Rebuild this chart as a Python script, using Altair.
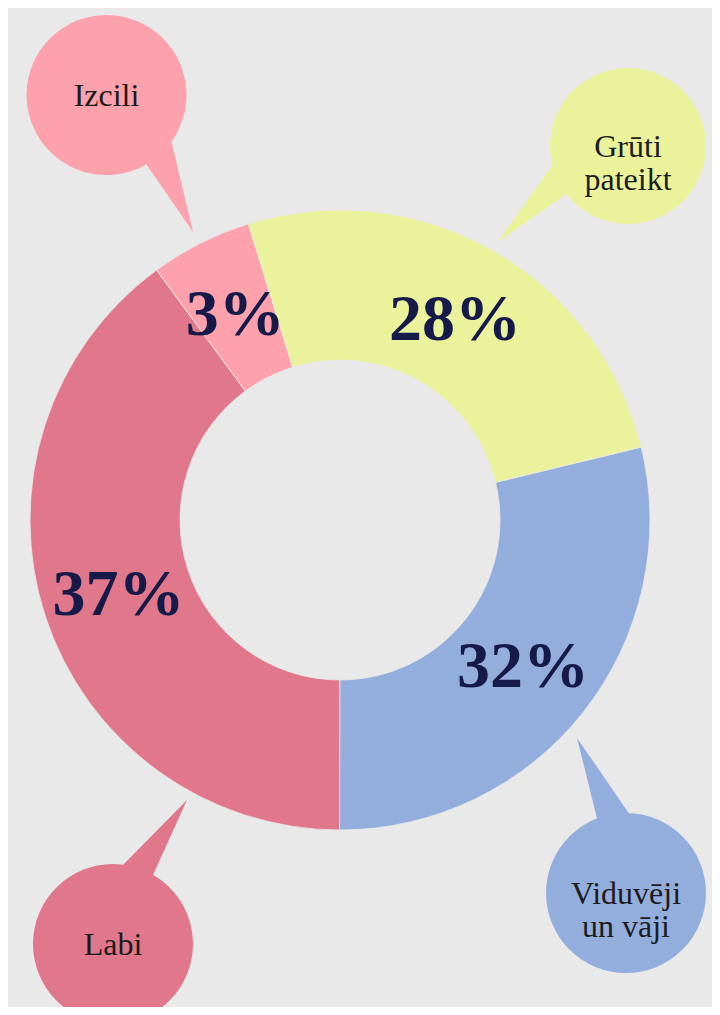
import math
import altair as alt
import pandas as pd

# ---- data ----
categories = ["Viduvēji un vāji", "Labi", "Izcili", "Grūti pateikt"]
shares = [28.8, 39.9, 5.3, 26.0]          # drawn slice sizes (share of the ring)
pct_labels = ["32%", "37%", "3%", "28%"]  # printed labels
bubble_lines = [["Viduvēji", "un vāji"], ["Labi"], ["Izcili"], ["Grūti", "pateikt"]]

# ---- styles / layout (page pixels) ----
colors = ["#93aedd", "#e0778b", "#fda1ad", "#eaf39b"]
BG = "#e9e9e9"
OFF = 8
W, H = 704, 999
CX, CY = 340 - OFF, 520 - OFF
R_OUT, R_IN = 310, 160
START = math.radians(76.4)
bubble_xy = [(626, 893), (113, 944), (106.5, 95), (628, 146)]
bubble_r = [80, 80, 80, 78]
tip_xy = [(577, 738), (187, 800), (193, 232), (498, 242)]
tip_deg = [(145.4, 166.0), (204.4, 224.6), (325.5, 346.6), (35.2, 54.8)]

df = pd.DataFrame({"cat": categories, "share": shares, "pct": pct_labels,
                   "ord": list(range(len(categories)))})
one = pd.DataFrame({"k": [0]})

theta_scale = alt.Scale(range=[START, START + 2 * math.pi])
color_scale = alt.Scale(domain=categories, range=colors)

layers = []
# pointers
for (tx, ty), (a0, a1), col in zip(tip_xy, tip_deg, colors):
    layers.append(
        alt.Chart(one).mark_arc(innerRadius=0, outerRadius=150,
                                theta=math.radians(a0), theta2=math.radians(a1),
                                color=col)
        .encode(x=alt.value(tx - OFF), y=alt.value(ty - OFF))
    )
# bubbles + text
for (bx, by), r, col, lines in zip(bubble_xy, bubble_r, colors, bubble_lines):
    layers.append(
        alt.Chart(one).mark_arc(innerRadius=0, outerRadius=r, theta=0,
                                theta2=2 * math.pi, color=col)
        .encode(x=alt.value(bx - OFF), y=alt.value(by - OFF))
    )
    layers.append(
        alt.Chart(one).mark_text(font="Liberation Serif", fontSize=32, color="#1c1c1c",
                                 lineHeight=33, baseline="middle", align="center")
        .encode(x=alt.value(bx - OFF), y=alt.value(by - OFF + 1),
                text=alt.value(lines if len(lines) > 1 else lines[0]))
    )

donut = alt.Chart(df).mark_arc(innerRadius=R_IN, outerRadius=R_OUT,
                               stroke=BG, strokeWidth=0.8).encode(
    x=alt.value(CX), y=alt.value(CY),
    theta=alt.Theta("share:Q", stack=True, scale=theta_scale),
    color=alt.Color("cat:N", scale=color_scale, legend=None),
    order=alt.Order("ord:Q"),
)
labels = alt.Chart(df).mark_text(radius=233, font="Liberation Serif", fontSize=66,
                                 fontWeight="bold", color="#151a48",
                                 baseline="middle", align="center", dy=3).encode(
    x=alt.value(CX), y=alt.value(CY),
    theta=alt.Theta("share:Q", stack=True, scale=theta_scale),
    detail=alt.Detail("cat:N"),
    order=alt.Order("ord:Q"),
    text="pct:N",
)
layers += [donut, labels]

chart = alt.layer(*layers).properties(
    width=W, height=H, background=BG, padding=0, autosize="none"
).configure_view(stroke=None)

chart.save("out.html", embed_options={"renderer": "svg", "actions": False})
